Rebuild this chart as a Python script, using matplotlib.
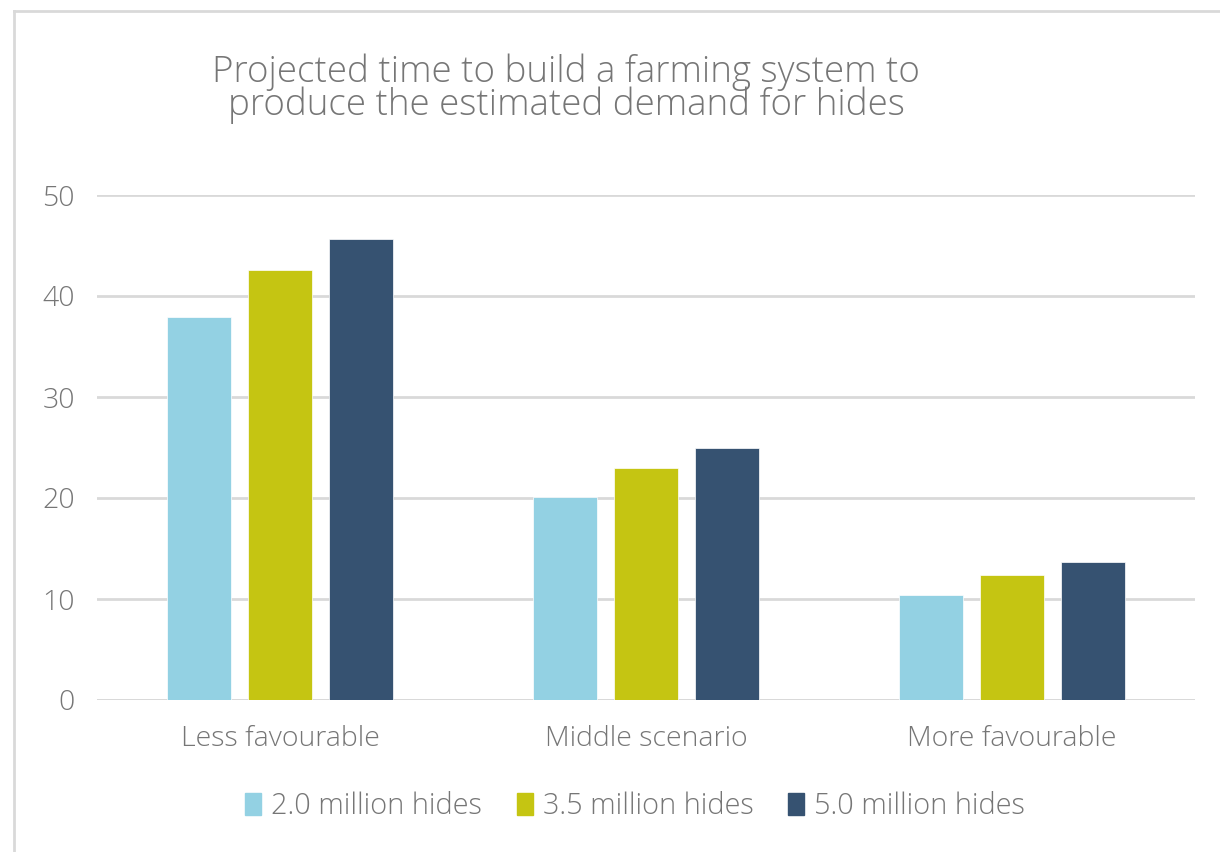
import matplotlib
matplotlib.use("Agg")
import matplotlib.pyplot as plt
import numpy as np
from matplotlib.patches import Rectangle
from matplotlib.lines import Line2D

categories = ["Less favourable", "Middle scenario", "More favourable"]
series_names = ["2.0 million hides", "3.5 million hides", "5.0 million hides"]
s_2_0 = [37.9, 20.1, 10.4]
s_3_5 = [42.6, 23.0, 12.4]
s_5_0 = [45.6, 25.0, 13.7]
values = [s_2_0, s_3_5, s_5_0]
colors = ["#93D1E3", "#C5C512", "#365271"]
yticks = [0, 10, 20, 30, 40, 50]

text_color = "#767676"
grid_color = "#D9D9D9"
fam = ["Open Sans", "DejaVu Sans"]

fig = plt.figure(figsize=(12.2, 8.52), dpi=100)
fig.patch.set_facecolor("white")

# frame lines
fig.add_artist(Line2D([14/1220, 1.0], [1 - 11/852, 1 - 11/852], transform=fig.transFigure,
                      color=grid_color, lw=2))
fig.add_artist(Line2D([14/1220, 14/1220], [0, 1 - 11/852], transform=fig.transFigure,
                      color=grid_color, lw=2))

ax = fig.add_axes([97/1220, 1 - 700/852, (1195 - 97)/1220, (700 - 195)/852])
x = np.arange(len(categories))
bw = 0.175
step = 0.222
for i in range(3):
    ax.bar(x + (i - 1) * step, values[i], width=bw, color=colors[i], zorder=3,
           label=series_names[i], edgecolor="white", linewidth=0.5)

ax.set_xlim(-0.5, 2.5)
ax.set_ylim(0, 50)
ax.set_yticks(yticks)
ax.yaxis.grid(True, color=grid_color, lw=2)
ax.set_axisbelow(True)
for s in ax.spines.values():
    s.set_visible(False)
ax.axhline(0, color=grid_color, lw=2, zorder=2)
ax.tick_params(axis="both", length=0, colors=text_color, labelsize=20.5)
ax.tick_params(axis="y", pad=16)
ax.tick_params(axis="x", pad=18)
ax.set_xticks(x)
ax.set_xticklabels(categories)
for lab in ax.get_xticklabels() + ax.get_yticklabels():
    lab.set_family(fam)
    lab.set_color(text_color)
    lab.set_fontweight("light")

fig.text(566/1220, 1 - 89/852, "Projected time to build a farming system to\nproduce the estimated demand for hides",
         ha="center", va="center", fontsize=26.5, color=text_color, family=fam,
         fontweight="light", linespacing=0.85)

handles = [Rectangle((0, 0), 1, 1, color=c) for c in colors]
leg = fig.legend(handles, series_names, loc="center", bbox_to_anchor=(635/1220, 1 - 806/852),
                 ncol=3, frameon=False, handlelength=0.55, handleheight=0.8,
                 handletextpad=0.35, columnspacing=1.2,
                 prop={"family": fam, "size": 20.8, "weight": "light"})
for t in leg.get_texts():
    t.set_color(text_color)

fig.savefig("out.png", dpi=100, facecolor="white")
